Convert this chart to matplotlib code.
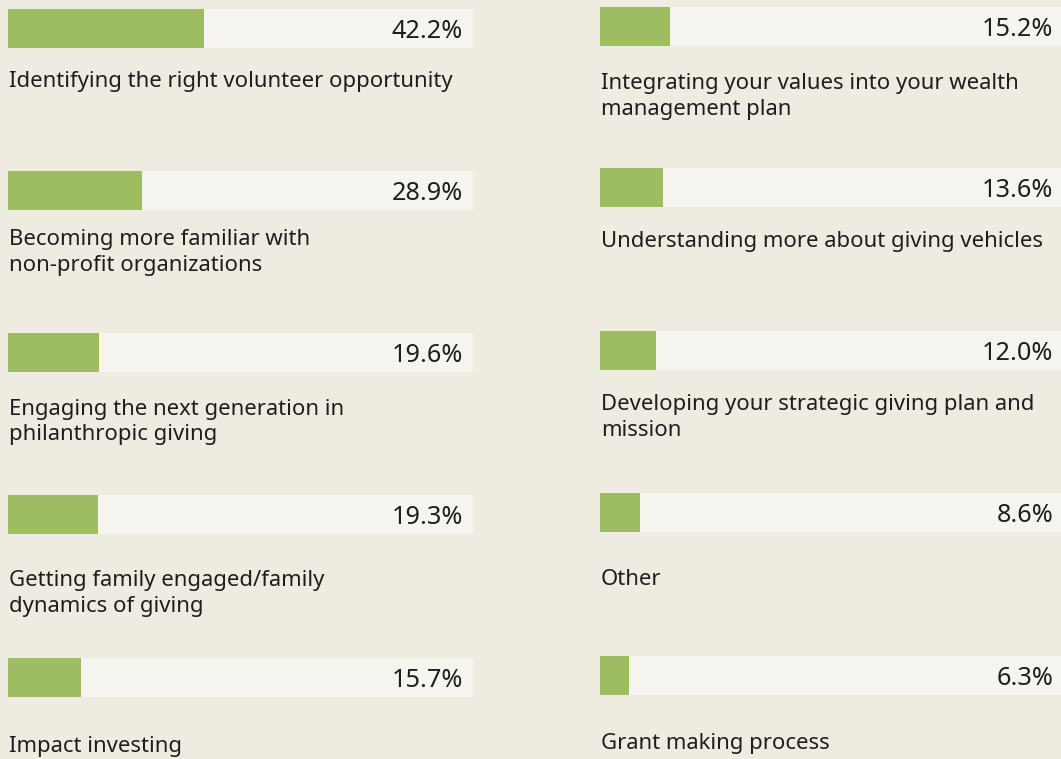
import matplotlib
matplotlib.use("Agg")
import matplotlib.pyplot as plt

# ---- data ----
left_labels = [
    "Identifying the right volunteer opportunity",
    "Becoming more familiar with\nnon-profit organizations",
    "Engaging the next generation in\nphilanthropic giving",
    "Getting family engaged/family\ndynamics of giving",
    "Impact investing",
]
left_values = [42.2, 28.9, 19.6, 19.3, 15.7]

right_labels = [
    "Integrating your values into your wealth\nmanagement plan",
    "Understanding more about giving vehicles",
    "Developing your strategic giving plan and\nmission",
    "Other",
    "Grant making process",
]
right_values = [15.2, 13.6, 12.0, 8.6, 6.3]

# ---- layout (pixels) ----
W, H = 1061, 759
BG = "#eeebe1"
TRACK = "#f6f4ee"
GREEN = "#9ebc61"
TEXT = "#1e1e1e"

col_x = [8, 600]
col_w = [465, 463]
track_h = 39
track_tops = [[9, 171, 333, 495, 658], [7, 168, 331, 493, 656]]
label_base = [[87.5, 245.5, 414.5, 586, 752], [89, 246.5, 410, 585, 749]]
FONT = ["Noto Sans", "DejaVu Sans"]
label_fs = 15.9
pct_fs = 18.2
line_gap = 25.7

fig = plt.figure(figsize=(W / 100, H / 100), dpi=100, facecolor=BG)


def fx(x):
    return x / W


def fy(y):
    return 1 - y / H


for c, (labels, values) in enumerate([(left_labels, left_values), (right_labels, right_values)]):
    for i, (lab, val) in enumerate(zip(labels, values)):
        top = track_tops[c][i]
        ax = fig.add_axes([fx(col_x[c]), fy(top + track_h), col_w[c] / W, track_h / H])
        ax.set_xlim(0, 100)
        ax.set_ylim(0, 1)
        ax.barh(0.5, 100, height=1, color=TRACK, linewidth=0)
        ax.barh(0.5, val, height=1, color=GREEN, linewidth=0)
        ax.axis("off")
        ax.text(1 - 10 / col_w[c], 0.5, f"{val:.1f}%", transform=ax.transAxes,
                ha="right", va="center_baseline", fontsize=pct_fs,
                family=FONT, color=TEXT)
        for k, line in enumerate(lab.split("\n")):
            fig.text(fx(col_x[c] + 1), fy(label_base[c][i] + k * line_gap), line,
                     ha="left", va="baseline", fontsize=label_fs,
                     family=FONT, color=TEXT)

fig.savefig("out.png", dpi=100, facecolor=BG)
